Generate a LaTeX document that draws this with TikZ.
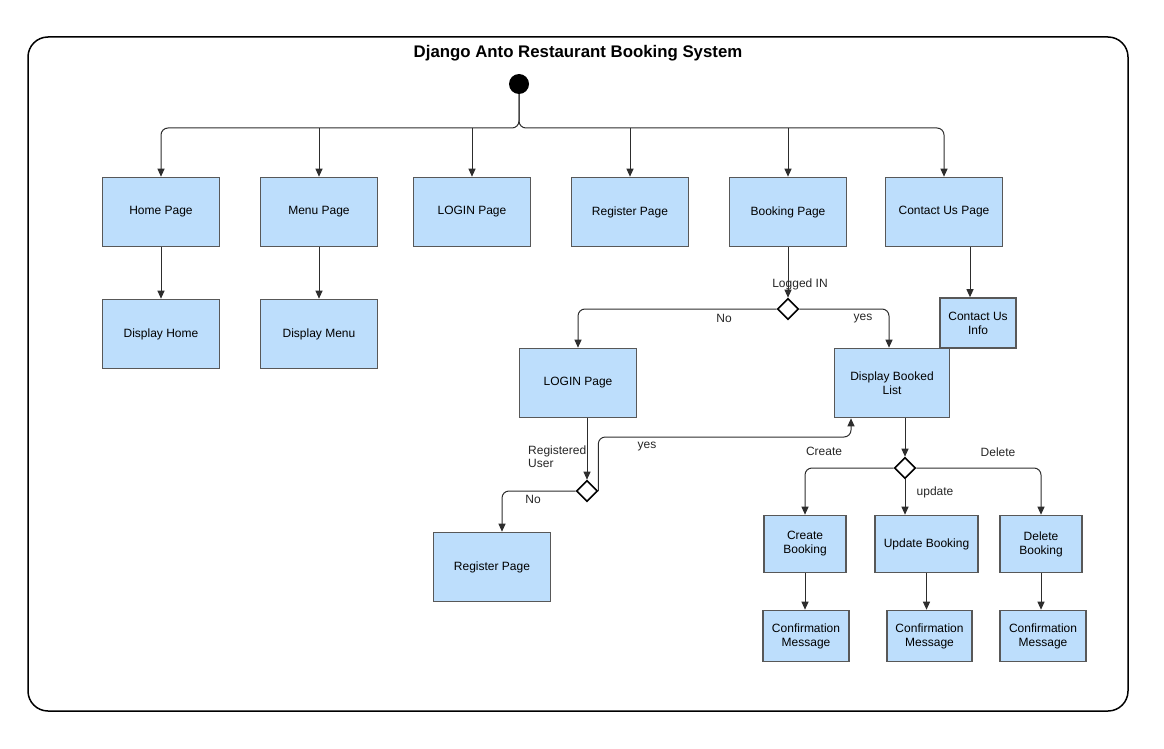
\documentclass[tikz,border=0pt]{standalone}
\usepackage{fontspec}
\setmainfont{Liberation Sans}
\usetikzlibrary{arrows.meta,shapes.geometric}
\definecolor{boxblue}{RGB}{189,222,252}
\definecolor{boxline}{RGB}{88,88,88}
\definecolor{wire}{RGB}{45,45,45}

\begin{document}
\begin{tikzpicture}[x=1pt,y=-1pt,
  page/.style={draw=boxline,fill=boxblue,line width=1.6pt,minimum width=117pt,minimum height=69pt,
    inner sep=1pt,align=center,font=\fontsize{12}{14}\selectfont},
  choice/.style={diamond,draw=black,fill=white,line width=1.6pt,minimum width=21pt,minimum height=21pt,inner sep=0pt},
  flow/.style={draw=wire,line width=1pt,-{Triangle[length=8pt,width=7pt]},rounded corners=7pt},
  lbl/.style={font=\fontsize{12}{14}\selectfont,inner sep=1pt,text=black!85}]
\useasboundingbox (0,0) rectangle (1164,749);
\draw[line width=1.5pt,rounded corners=20pt] (28,37) rectangle (1128,711);
\node (title) at (578,53) {\fontsize{16.8}{18}\selectfont\bfseries Django Anto Restaurant Booking System};
\node (start) [circle,fill=black,minimum size=20pt,inner sep=0pt] at (519,84) {};
\coordinate (split) at (519,128);

% top row
\node (home) [page] at (161,212) {Home Page};
\node (menu) [page] at (319,212) {Menu Page};
\node (login) [page] at (472,212) {LOGIN Page};
\node (register) [page] at (630,212) {Register Page};
\node (booking) [page] at (788,212) {Booking Page};
\node (contact) [page] at (944,212) {Contact Us Page};

\node (disphome) [page] at (161,334) {Display Home};
\node (dispmenu) [page] at (319,334) {Display Menu};

\draw[flow] (start) -- (split) -| (home);
\draw[flow] (start) -- (split) -| (contact);
\draw[flow] (menu |- split) -- (menu);
\draw[flow] (login |- split) -- (login);
\draw[flow] (register |- split) -- (register);
\draw[flow] (booking |- split) -- (booking);
\draw[flow] (home) -- (disphome);
\draw[flow] (menu) -- (dispmenu);

% booking branch
\node (logged) [choice] at (788,309) {};
\node (loggedlbl) [lbl] at (800,284) {Logged IN};
\node (login2) [page] at (578,383) {LOGIN Page};
\node (info) [page,minimum width=76pt,minimum height=50pt] at (978,323) {Contact Us\\Info};
\node (booked) [page,minimum width=115pt] at (892,383) {Display Booked\\List};
\coordinate (infoin) at ([xshift=-8pt]info.north);
\draw[flow] (infoin |- contact.south) -- (infoin);
\draw[flow] (booking) -- (logged);
\draw[flow] (logged) -| (login2);
\draw[flow] (logged) -| ([xshift=-3pt]booked.north);
\node (nolbl) [lbl] at (724,318) {No};
\node (yeslbl) [lbl] at (863,319) {yes};

% registered user check
\node (regcheck) [choice] at (587,491) {};
\node (reglbl) [lbl,anchor=west,align=left,font=\fontsize{12}{13}\selectfont] at (527,457) {Registered\\User};
\node (register2) [page] at (492,567) {Register Page};
\coordinate (yesbend) at (851,437);
\draw[flow] (login2.south -| regcheck) -- (regcheck);
\draw[flow] (regcheck) -| ([xshift=10pt]register2.north);
\draw[flow] (regcheck.east) |- (yesbend) -- (yesbend |- booked.south);
\node (no2lbl) [lbl] at (533,499) {No};
\node (yes2lbl) [lbl] at (647,447) {yes};

% booking actions
\node (action) [choice] at (905,468) {};
\node (createbk) [page,minimum width=82pt,minimum height=57pt] at (805,544) {Create\\Booking};
\node (updatebk) [page,minimum width=103pt,minimum height=57pt] at (926.5,544) {Update Booking};
\node (deletebk) [page,minimum width=82pt,minimum height=57pt] at (1041,544) {Delete\\Booking};
\node (conf1) [page,minimum width=86pt,minimum height=51pt] at (806,636) {Confirmation\\Message};
\node (conf2) [page,minimum width=85pt,minimum height=51pt] at (929.5,636) {Confirmation\\Message};
\node (conf3) [page,minimum width=86pt,minimum height=51pt] at (1043,636) {Confirmation\\Message};
\draw[flow] (booked.south -| action) -- (action);
\draw[flow] (action) -| (createbk);
\draw[flow] (action) -- (action |- updatebk.north);
\draw[flow] (action) -| (deletebk);
\draw[flow] (createbk) -- (createbk |- conf1.north);
\draw[flow] (updatebk) -- (updatebk |- conf2.north);
\draw[flow] (deletebk) -- (deletebk |- conf3.north);
\node (createlbl) [lbl] at (824,451) {Create};
\node (updatelbl) [lbl] at (935,492) {update};
\node (deletelbl) [lbl] at (998,452) {Delete};
\end{tikzpicture}
\end{document}
